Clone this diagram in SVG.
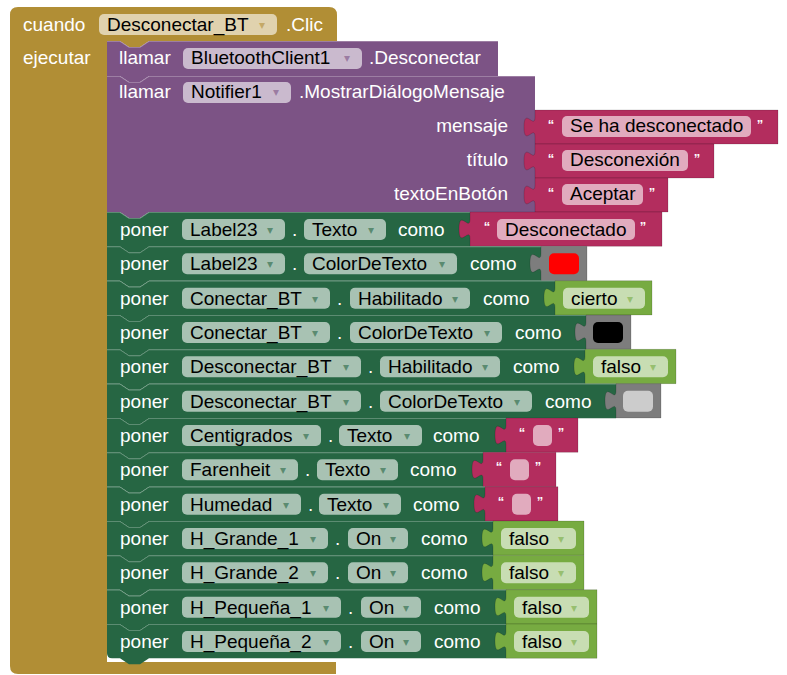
<svg xmlns="http://www.w3.org/2000/svg" width="787" height="675" viewBox="0 0 787 675">
<style>
text{font-family:"Liberation Sans",Arial,sans-serif;font-size:19px}
.w{fill:#fff}
.k{fill:#000}
.f{fill:#fff;fill-opacity:.6}
.a{font-family:"DejaVu Sans",sans-serif;font-size:12px;text-anchor:middle;fill-opacity:.6}
.ae{fill:#b18e35}.ap{fill:#7c5385}.ag{fill:#266643}.al{fill:#77ab41}
.q{font-size:13px;fill:#fff;font-weight:bold;text-anchor:middle}
.ev{fill:#b18e35}
.pu{fill:#7c5385}
.gr{fill:#266643}
.tx{fill:#b32d5e;stroke:#000;stroke-opacity:.15}
.lg{fill:#77ab41;stroke:#000;stroke-opacity:.15}
.co{fill:#7d7d7d;stroke:#000;stroke-opacity:.15}
.hl{fill:none;stroke:#fff;stroke-opacity:.25}
.e{text-anchor:end}
</style>
<rect width="787" height="675" fill="#fff"/>

<g id="event-desconectar-clic">
<path class="ev" d="M10,15Q10,7 18,7H329Q337,7 337,15V41H149L140,47H129L120,41H107V662H336V674H18Q10,674 10,666Z"/>
<text class="w" x="23" y="31">cuando</text>
<rect class="f" x="99" y="14" width="178" height="21" rx="5"/>
<text class="k" x="107" y="31">Desconectar_BT</text>
<text class="a ae" x="262" y="29">▾</text>
<text class="w" x="286" y="31">.Clic</text>
<text class="w" x="23" y="64">ejecutar</text>
</g>

<g id="call-bluetooth-desconectar">
<path class="pu" d="M107,41H120L129,47H140L149,41H498V76H149L140,82H129L120,76H107Z"/>
<path class="hl" d="M107,41.5H120L129,47.5H140L149,41.5H498"/>
<text class="w" x="119" y="64">llamar</text>
<rect class="f" x="183" y="48" width="179" height="21" rx="5"/>
<text class="k" x="191" y="64">BluetoothClient1</text>
<text class="a ap" x="347" y="62">▾</text>
<text class="w" x="369" y="64">.Desconectar</text>
</g>

<g id="call-notifier-mostrar">
<path class="pu" d="M107,76H120L129,82H140L149,76H535V212H149L140,218H129L120,212H107Z"/>
<path class="hl" d="M107,76.5H120L129,82.5H140L149,76.5H535"/>
<text class="w" x="119" y="98">llamar</text>
<rect class="f" x="183" y="82" width="108" height="21" rx="5"/>
<text class="k" x="191" y="98">Notifier1</text>
<text class="a ap" x="276" y="96">▾</text>
<text class="w" x="299" y="98">.MostrarDiálogoMensaje</text>
<text class="w e" x="508" y="132">mensaje</text>
<text class="w e" x="508" y="166">título</text>
<text class="w e" x="508" y="200">textoEnBotón</text>
</g>

<g id="text-mensaje">
<path class="tx" d="M535,110H778V144H535V137c0,-13.3 -11,10.7 -11,-10s11,3.3 11,-10Z"/>
<text class="q" x="551" y="129">“</text>
<rect class="f" x="562" y="116" width="189" height="21" rx="5"/>
<text class="k" x="570" y="132">Se ha desconectado</text>
<text class="q" x="760" y="129">”</text>
</g>
<g id="text-titulo">
<path class="tx" d="M535,144H714V178H535V171c0,-13.3 -11,10.7 -11,-10s11,3.3 11,-10Z"/>
<text class="q" x="551" y="163">“</text>
<rect class="f" x="562" y="150" width="126" height="21" rx="5"/>
<text class="k" x="570" y="166">Desconexión</text>
<text class="q" x="697" y="163">”</text>
</g>
<g id="text-boton">
<path class="tx" d="M535,178H668V212H535V205c0,-13.3 -11,10.7 -11,-10s11,3.3 11,-10Z"/>
<text class="q" x="551" y="197">“</text>
<rect class="f" x="562" y="184" width="81" height="21" rx="5"/>
<text class="k" x="570" y="200">Aceptar</text>
<text class="q" x="652" y="197">”</text>
</g>

<g id="set-label23-texto" transform="translate(0,212)">
<path class="gr" d="M107,0H120L129,6H140L149,0H470V34.5H149L140,40.5H129L120,34.5H107Z"/>
<path class="hl" d="M107,0.5H120L129,6.5H140L149,0.5H470"/>
<text class="w" x="120" y="24">poner</text>
<rect class="f" x="182" y="7" width="103" height="21" rx="5"/>
<text class="k" x="190" y="24">Label23</text>
<text class="a ag" x="270" y="22">▾</text>
<text class="w" x="292" y="24">.</text>
<rect class="f" x="304" y="7" width="82" height="21" rx="5"/>
<text class="k" x="312" y="24">Texto</text>
<text class="a ag" x="371" y="22">▾</text>
<text class="w" x="398" y="24">como</text>
<path class="tx" d="M470,0H662V34.3H470V27c0,-13.3 -11,10.7 -11,-10s11,3.3 11,-10Z"/>
<text class="q" x="487" y="19">“</text>
<rect class="f" x="497" y="7" width="138" height="21" rx="5"/>
<text class="k" x="505" y="24">Desconectado</text>
<text class="q" x="643" y="19">”</text>
</g>

<g id="set-label23-color" transform="translate(0,246.33)">
<path class="gr" d="M107,0H120L129,6H140L149,0H541V34.5H149L140,40.5H129L120,34.5H107Z"/>
<path class="hl" d="M107,0.5H120L129,6.5H140L149,0.5H541"/>
<text class="w" x="120" y="24">poner</text>
<rect class="f" x="182" y="7" width="103" height="21" rx="5"/>
<text class="k" x="190" y="24">Label23</text>
<text class="a ag" x="270" y="22">▾</text>
<text class="w" x="292" y="24">.</text>
<rect class="f" x="304" y="7" width="153" height="21" rx="5"/>
<text class="k" x="312" y="24">ColorDeTexto</text>
<text class="a ag" x="442" y="22">▾</text>
<text class="w" x="470" y="24">como</text>
<path class="co" d="M541,0H587V34.3H541V27c0,-13.3 -11,10.7 -11,-10s11,3.3 11,-10Z"/>
<rect x="549" y="7" width="30" height="21" rx="5" fill="#ff0000"/>
</g>

<g id="set-conectar-habilitado" transform="translate(0,280.67)">
<path class="gr" d="M107,0H120L129,6H140L149,0H555V34.5H149L140,40.5H129L120,34.5H107Z"/>
<path class="hl" d="M107,0.5H120L129,6.5H140L149,0.5H555"/>
<text class="w" x="120" y="24">poner</text>
<rect class="f" x="182" y="7" width="148" height="21" rx="5"/>
<text class="k" x="190" y="24">Conectar_BT</text>
<text class="a ag" x="315" y="22">▾</text>
<text class="w" x="337" y="24">.</text>
<rect class="f" x="350" y="7" width="120" height="21" rx="5"/>
<text class="k" x="358" y="24">Habilitado</text>
<text class="a ag" x="455" y="22">▾</text>
<text class="w" x="483" y="24">como</text>
<path class="lg" d="M555,0H652V34.3H555V27c0,-13.3 -11,10.7 -11,-10s11,3.3 11,-10Z"/>
<rect class="f" x="563" y="7" width="82" height="21" rx="5"/>
<text class="k" x="571" y="24">cierto</text>
<text class="a al" x="630" y="22">▾</text>
</g>

<g id="set-conectar-color" transform="translate(0,315)">
<path class="gr" d="M107,0H120L129,6H140L149,0H586V34.5H149L140,40.5H129L120,34.5H107Z"/>
<path class="hl" d="M107,0.5H120L129,6.5H140L149,0.5H586"/>
<text class="w" x="120" y="24">poner</text>
<rect class="f" x="182" y="7" width="148" height="21" rx="5"/>
<text class="k" x="190" y="24">Conectar_BT</text>
<text class="a ag" x="315" y="22">▾</text>
<text class="w" x="337" y="24">.</text>
<rect class="f" x="350" y="7" width="152" height="21" rx="5"/>
<text class="k" x="358" y="24">ColorDeTexto</text>
<text class="a ag" x="487" y="22">▾</text>
<text class="w" x="515" y="24">como</text>
<path class="co" d="M586,0H631V34.3H586V27c0,-13.3 -11,10.7 -11,-10s11,3.3 11,-10Z"/>
<rect x="593" y="7" width="30" height="21" rx="5" fill="#000000"/>
</g>

<g id="set-desconectar-habilitado" transform="translate(0,349.33)">
<path class="gr" d="M107,0H120L129,6H140L149,0H585V34.5H149L140,40.5H129L120,34.5H107Z"/>
<path class="hl" d="M107,0.5H120L129,6.5H140L149,0.5H585"/>
<text class="w" x="120" y="24">poner</text>
<rect class="f" x="182" y="7" width="179" height="21" rx="5"/>
<text class="k" x="190" y="24">Desconectar_BT</text>
<text class="a ag" x="346" y="22">▾</text>
<text class="w" x="368" y="24">.</text>
<rect class="f" x="380" y="7" width="120" height="21" rx="5"/>
<text class="k" x="388" y="24">Habilitado</text>
<text class="a ag" x="485" y="22">▾</text>
<text class="w" x="513" y="24">como</text>
<path class="lg" d="M585,0H676V34.3H585V27c0,-13.3 -11,10.7 -11,-10s11,3.3 11,-10Z"/>
<rect class="f" x="593" y="7" width="75" height="21" rx="5"/>
<text class="k" x="601" y="24">falso</text>
<text class="a al" x="653" y="22">▾</text>
</g>

<g id="set-desconectar-color" transform="translate(0,383.67)">
<path class="gr" d="M107,0H120L129,6H140L149,0H616V34.5H149L140,40.5H129L120,34.5H107Z"/>
<path class="hl" d="M107,0.5H120L129,6.5H140L149,0.5H616"/>
<text class="w" x="120" y="24">poner</text>
<rect class="f" x="182" y="7" width="179" height="21" rx="5"/>
<text class="k" x="190" y="24">Desconectar_BT</text>
<text class="a ag" x="346" y="22">▾</text>
<text class="w" x="368" y="24">.</text>
<rect class="f" x="380" y="7" width="152" height="21" rx="5"/>
<text class="k" x="388" y="24">ColorDeTexto</text>
<text class="a ag" x="517" y="22">▾</text>
<text class="w" x="545" y="24">como</text>
<path class="co" d="M616,0H661V34.3H616V27c0,-13.3 -11,10.7 -11,-10s11,3.3 11,-10Z"/>
<rect x="623" y="7" width="30" height="21" rx="5" fill="#cccccc"/>
</g>

<g id="set-centigrados-texto" transform="translate(0,418)">
<path class="gr" d="M107,0H120L129,6H140L149,0H506V34.5H149L140,40.5H129L120,34.5H107Z"/>
<path class="hl" d="M107,0.5H120L129,6.5H140L149,0.5H506"/>
<text class="w" x="120" y="24">poner</text>
<rect class="f" x="182" y="7" width="139" height="21" rx="5"/>
<text class="k" x="190" y="24">Centigrados</text>
<text class="a ag" x="306" y="22">▾</text>
<text class="w" x="328" y="24">.</text>
<rect class="f" x="339" y="7" width="83" height="21" rx="5"/>
<text class="k" x="347" y="24">Texto</text>
<text class="a ag" x="407" y="22">▾</text>
<text class="w" x="433" y="24">como</text>
<path class="tx" d="M506,0H578V34.3H506V27c0,-13.3 -11,10.7 -11,-10s11,3.3 11,-10Z"/>
<text class="q" x="522" y="19">“</text>
<rect class="f" x="533" y="7" width="19" height="21" rx="5"/>
<text class="q" x="561" y="19">”</text>
</g>

<g id="set-farenheit-texto" transform="translate(0,452.33)">
<path class="gr" d="M107,0H120L129,6H140L149,0H483V34.5H149L140,40.5H129L120,34.5H107Z"/>
<path class="hl" d="M107,0.5H120L129,6.5H140L149,0.5H483"/>
<text class="w" x="120" y="24">poner</text>
<rect class="f" x="182" y="7" width="116" height="21" rx="5"/>
<text class="k" x="190" y="24">Farenheit</text>
<text class="a ag" x="283" y="22">▾</text>
<text class="w" x="305" y="24">.</text>
<rect class="f" x="317" y="7" width="81" height="21" rx="5"/>
<text class="k" x="325" y="24">Texto</text>
<text class="a ag" x="383" y="22">▾</text>
<text class="w" x="410" y="24">como</text>
<path class="tx" d="M483,0H556V34.3H483V27c0,-13.3 -11,10.7 -11,-10s11,3.3 11,-10Z"/>
<text class="q" x="499" y="19">“</text>
<rect class="f" x="510" y="7" width="19" height="21" rx="5"/>
<text class="q" x="538" y="19">”</text>
</g>

<g id="set-humedad-texto" transform="translate(0,486.67)">
<path class="gr" d="M107,0H120L129,6H140L149,0H485V34.5H149L140,40.5H129L120,34.5H107Z"/>
<path class="hl" d="M107,0.5H120L129,6.5H140L149,0.5H485"/>
<text class="w" x="120" y="24">poner</text>
<rect class="f" x="182" y="7" width="119" height="21" rx="5"/>
<text class="k" x="190" y="24">Humedad</text>
<text class="a ag" x="286" y="22">▾</text>
<text class="w" x="308" y="24">.</text>
<rect class="f" x="319" y="7" width="82" height="21" rx="5"/>
<text class="k" x="327" y="24">Texto</text>
<text class="a ag" x="386" y="22">▾</text>
<text class="w" x="413" y="24">como</text>
<path class="tx" d="M485,0H558V34.3H485V27c0,-13.3 -11,10.7 -11,-10s11,3.3 11,-10Z"/>
<text class="q" x="501" y="19">“</text>
<rect class="f" x="512" y="7" width="19" height="21" rx="5"/>
<text class="q" x="540" y="19">”</text>
</g>

<g id="set-hgrande1-on" transform="translate(0,521)">
<path class="gr" d="M107,0H120L129,6H140L149,0H493V34.5H149L140,40.5H129L120,34.5H107Z"/>
<path class="hl" d="M107,0.5H120L129,6.5H140L149,0.5H493"/>
<text class="w" x="120" y="24">poner</text>
<rect class="f" x="182" y="7" width="146" height="21" rx="5"/>
<text class="k" x="190" y="24">H_Grande_1</text>
<text class="a ag" x="313" y="22">▾</text>
<text class="w" x="335" y="24">.</text>
<rect class="f" x="348" y="7" width="60" height="21" rx="5"/>
<text class="k" x="356" y="24">On</text>
<text class="a ag" x="393" y="22">▾</text>
<text class="w" x="421" y="24">como</text>
<path class="lg" d="M493,0H584V34.3H493V27c0,-13.3 -11,10.7 -11,-10s11,3.3 11,-10Z"/>
<rect class="f" x="501" y="7" width="75" height="21" rx="5"/>
<text class="k" x="509" y="24">falso</text>
<text class="a al" x="561" y="22">▾</text>
</g>

<g id="set-hgrande2-on" transform="translate(0,555.33)">
<path class="gr" d="M107,0H120L129,6H140L149,0H493V34.5H149L140,40.5H129L120,34.5H107Z"/>
<path class="hl" d="M107,0.5H120L129,6.5H140L149,0.5H493"/>
<text class="w" x="120" y="24">poner</text>
<rect class="f" x="182" y="7" width="146" height="21" rx="5"/>
<text class="k" x="190" y="24">H_Grande_2</text>
<text class="a ag" x="313" y="22">▾</text>
<text class="w" x="335" y="24">.</text>
<rect class="f" x="348" y="7" width="60" height="21" rx="5"/>
<text class="k" x="356" y="24">On</text>
<text class="a ag" x="393" y="22">▾</text>
<text class="w" x="421" y="24">como</text>
<path class="lg" d="M493,0H584V34.3H493V27c0,-13.3 -11,10.7 -11,-10s11,3.3 11,-10Z"/>
<rect class="f" x="501" y="7" width="75" height="21" rx="5"/>
<text class="k" x="509" y="24">falso</text>
<text class="a al" x="561" y="22">▾</text>
</g>

<g id="set-hpequena1-on" transform="translate(0,589.67)">
<path class="gr" d="M107,0H120L129,6H140L149,0H506V34.5H149L140,40.5H129L120,34.5H107Z"/>
<path class="hl" d="M107,0.5H120L129,6.5H140L149,0.5H506"/>
<text class="w" x="120" y="24">poner</text>
<rect class="f" x="182" y="7" width="159" height="21" rx="5"/>
<text class="k" x="190" y="24">H_Pequeña_1</text>
<text class="a ag" x="326" y="22">▾</text>
<text class="w" x="348" y="24">.</text>
<rect class="f" x="361" y="7" width="60" height="21" rx="5"/>
<text class="k" x="369" y="24">On</text>
<text class="a ag" x="406" y="22">▾</text>
<text class="w" x="434" y="24">como</text>
<path class="lg" d="M506,0H597V34.3H506V27c0,-13.3 -11,10.7 -11,-10s11,3.3 11,-10Z"/>
<rect class="f" x="514" y="7" width="75" height="21" rx="5"/>
<text class="k" x="522" y="24">falso</text>
<text class="a al" x="574" y="22">▾</text>
</g>

<g id="set-hpequena2-on" transform="translate(0,624)">
<path class="gr" d="M107,0H120L129,6H140L149,0H506V34.3H149L140,40.3H129L120,34.3H112Q107,34.3 107,29.3Z"/>
<path class="hl" d="M107,0.5H120L129,6.5H140L149,0.5H506"/>
<text class="w" x="120" y="24">poner</text>
<rect class="f" x="182" y="7" width="159" height="21" rx="5"/>
<text class="k" x="190" y="24">H_Pequeña_2</text>
<text class="a ag" x="326" y="22">▾</text>
<text class="w" x="348" y="24">.</text>
<rect class="f" x="361" y="7" width="60" height="21" rx="5"/>
<text class="k" x="369" y="24">On</text>
<text class="a ag" x="406" y="22">▾</text>
<text class="w" x="434" y="24">como</text>
<path class="lg" d="M506,0H597V34.3H506V27c0,-13.3 -11,10.7 -11,-10s11,3.3 11,-10Z"/>
<rect class="f" x="514" y="7" width="75" height="21" rx="5"/>
<text class="k" x="522" y="24">falso</text>
<text class="a al" x="574" y="22">▾</text>
</g>

<g id="connectors"/>
</svg>
